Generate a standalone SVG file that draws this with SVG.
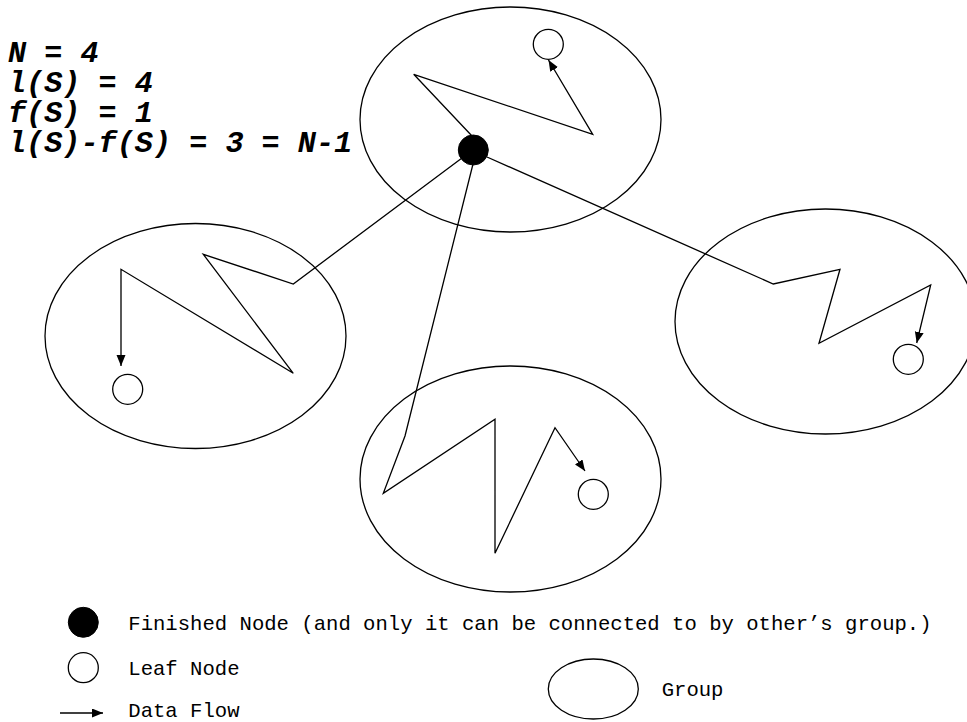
<svg xmlns="http://www.w3.org/2000/svg" width="967" height="722" viewBox="0 0 967 722">
<style>
.grp{fill:none;stroke:#000;stroke-width:1.3}
.leaf{fill:#fff;stroke:#000;stroke-width:1.3}
.fin{fill:#000;stroke:#000;stroke-width:1}
.flow{fill:none;stroke:#000;stroke-width:1.3;stroke-linejoin:miter}
.arr{marker-end:url(#ah)}
.eq{font-family:"Liberation Mono","Courier New",monospace;font-weight:bold;font-style:italic;font-size:30.2px;fill:#000}
.lg{font-family:"Liberation Mono","Courier New",monospace;font-size:20.6px;fill:#000}
</style>
<defs>
<marker id="ah" markerUnits="userSpaceOnUse" markerWidth="12" markerHeight="10" refX="11" refY="4.5" orient="auto">
<path d="M0,0 L11,4.5 L0,9 Z" fill="#000"/>
</marker>
</defs>
<rect width="967" height="722" fill="#fff"/>
<g id="formula">
<text class="eq" x="8" y="61.7">N = 4</text>
<text class="eq" x="8" y="91.7">l(S) = 4</text>
<text class="eq" x="8" y="121.7">f(S) = 1</text>
<text class="eq" x="8" y="151.7">l(S)-f(S) = 3 = N-1</text>
</g>
<g id="group-top"><ellipse class="grp" cx="510.5" cy="119.5" rx="150.5" ry="112.5"/></g>
<g id="group-left"><ellipse class="grp" cx="195.5" cy="336" rx="150.5" ry="112.5"/></g>
<g id="group-right"><ellipse class="grp" cx="825.5" cy="321.5" rx="150.5" ry="112.5"/></g>
<g id="group-bottom"><ellipse class="grp" cx="510.5" cy="479" rx="150.5" ry="113"/></g>
<g id="connectors">
<polyline class="flow arr" points="472,136 413.7,74.3 592.7,134.3 548.5,60"/>
<polyline class="flow arr" points="462,158 293.3,284 203.3,254.3 293.3,373.3 121,269.3 121,366"/>
<polyline class="flow arr" points="487,157 773.3,284 840,269.3 819,343.3 930.7,285 916.7,343"/>
<polyline class="flow arr" points="473,164 405,436 383.3,493.3 495,419.3 495,553.3 555,427.7 585,471"/>
</g>
<g id="finished-node"><circle class="fin" cx="473.3" cy="150" r="15"/></g>
<g id="leaf-top"><circle class="leaf" cx="548.3" cy="44.3" r="15"/></g>
<g id="leaf-left"><circle class="leaf" cx="127.7" cy="389.3" r="15"/></g>
<g id="leaf-right"><circle class="leaf" cx="908.3" cy="359.3" r="15"/></g>
<g id="leaf-bottom"><circle class="leaf" cx="593.3" cy="494.3" r="15"/></g>
<g id="legend">
<circle class="fin" cx="83.3" cy="622.3" r="15"/>
<text class="lg" x="128.3" y="629.5">Finished Node (and only it can be connected to by other’s group.)</text>
<circle class="leaf" cx="83.3" cy="667.7" r="15"/>
<text class="lg" x="128.3" y="674.5">Leaf Node</text>
<line class="flow arr" x1="60" y1="713" x2="103" y2="713"/>
<text class="lg" x="128.3" y="717">Data Flow</text>
<ellipse class="grp" cx="593.3" cy="689" rx="45" ry="30"/>
<text class="lg" x="661.7" y="696">Group</text>
</g>
</svg>
